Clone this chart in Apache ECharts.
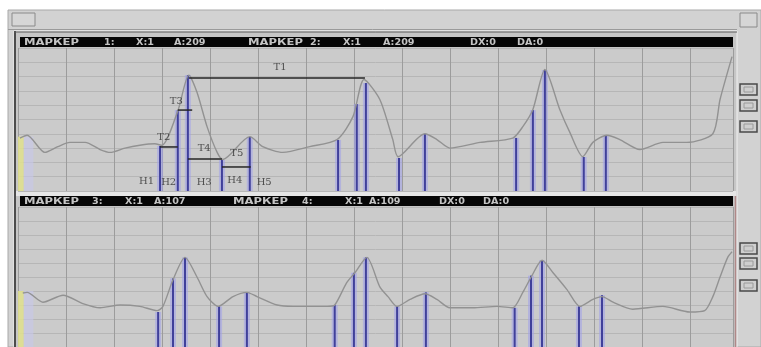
<!DOCTYPE html>
<html>
<head>
<meta charset="utf-8">
<script src="https://cdn.jsdelivr.net/npm/echarts@6/dist/echarts.min.js"></script>
<style>
  html, body { margin: 0; padding: 0; background: #ffffff; }
  #chart { width: 761px; height: 347px; }
</style>
</head>
<body>
<div id="chart"></div>
<script>
// time axis in samples, amplitude in % of panel height
const topWave = [
  [0.4, 37], [1.9, 39], [5.6, 27], [8.3, 31], [10.8, 34], [14.0, 34], [17.1, 29], [19.2, 27],
  [22.3, 30], [25.4, 32], [28.5, 33], [30.0, 32], [33.3, 56], [35.6, 81], [37.3, 69], [39.4, 45],
  [41.5, 27], [42.7, 22], [48.3, 38], [51.0, 31], [55.2, 27], [60.8, 31], [66.5, 36], [69.8, 52],
  [72.1, 78], [75.4, 64], [78.1, 36], [79.2, 24], [84.8, 40], [87.3, 36], [90.0, 30], [96.3, 34],
  [103.1, 37], [105.2, 45], [107.3, 57], [109.8, 85], [112.9, 57], [115.0, 41], [117.7, 24],
  [119.8, 34], [122.7, 39], [125.4, 36], [129.6, 29], [134.4, 34], [139.4, 34], [144.8, 40],
  [146.3, 64], [148.8, 94]
];
const topMarkers = [
  [29.6, 31.5], [33.3, 56.6], [35.4, 81], [42.5, 21.7], [48.3, 37.8], [66.7, 35.7], [70.6, 60.8],
  [72.5, 75.5], [79.4, 23.1], [84.8, 39.9], [103.8, 37.1], [107.3, 56.6], [109.8, 84.6],
  [117.9, 23.8], [122.5, 38.5]
];
// horizontal measurement segments: [from, to, level]
const topSegments = [
  [35.6, 72.3, 79], [29.6, 33.3, 30.8], [33.3, 36.3, 56.6], [35.4, 42.5, 22.4], [42.5, 48.5, 16.8]
];
const annotNames = ['T1', 'T2', 'T3', 'T4', 'T5', 'H1', 'H2', 'H3', 'H4', 'H5'];
const annotPos = [
  [54.6, 86.7], [30.4, 37.8], [33.0, 62.9], [38.8, 30], [45.6, 26.6],
  [26.8, 7], [31.4, 6.3], [38.8, 6.3], [45.2, 7.7], [51.3, 6.3]
];

const bottomWave = [
  [1.0, 38.6], [1.9, 39], [5.2, 32], [9.4, 37], [13.5, 31], [17.1, 28], [21.3, 30], [25.4, 29],
  [29.0, 26], [30.2, 29], [32.3, 48], [34.8, 64], [37.3, 50], [39.4, 36], [41.7, 29], [44.8, 36],
  [47.7, 39], [49.8, 36], [54.0, 30], [57.3, 29], [61.5, 29], [64.4, 29], [66.0, 30], [68.5, 46],
  [70.2, 53], [72.7, 64], [75.4, 43], [77.1, 36], [79.0, 29], [81.7, 34], [84.8, 38], [87.3, 34],
  [90.0, 28], [94.8, 28], [99.8, 29], [103.1, 28], [105.2, 39], [107.1, 51], [109.2, 62],
  [111.5, 53], [114.4, 41], [117.1, 29], [119.8, 34], [121.7, 36], [124.0, 32], [128.1, 27],
  [134.4, 29], [140.0, 25], [143.1, 26], [144.8, 36], [146.3, 50], [147.9, 64], [148.8, 68]
];
const bottomMarkers = [
  [29.2, 25], [32.3, 49], [34.8, 64], [41.9, 29], [47.7, 39], [66.0, 30], [70.0, 53], [72.5, 64],
  [79.0, 29], [85.0, 39], [103.5, 28], [106.9, 51], [109.2, 62], [116.9, 29], [121.7, 37]
];

const headerTop = [['МАРКЕР', 24], ['1:', 104], ['X:1', 136], ['A:209', 174], ['МАРКЕР', 248],
  ['2:', 310], ['X:1', 343], ['A:209', 383], ['DX:0', 470], ['DA:0', 517]];
const headerBottom = [['МАРКЕР', 24], ['3:', 92], ['X:1', 125], ['A:107', 154], ['МАРКЕР', 233],
  ['4:', 302], ['X:1', 345], ['A:109', 369], ['DX:0', 439], ['DA:0', 483]];

const chart = echarts.init(document.getElementById('chart'), null, { renderer: 'canvas' });

function xAxisOf(i) {
  return {
    gridIndex: i, type: 'value', min: 0, max: 149, interval: 10,
    axisLine: { show: false }, axisTick: { show: false }, axisLabel: { show: false },
    splitLine: { lineStyle: { color: '#9c9c9c', width: 1 } }
  };
}
function yAxisOf(i) {
  return {
    gridIndex: i, type: 'value', min: 0, max: 100, interval: 10,
    axisLine: { show: false }, axisTick: { show: false }, axisLabel: { show: false },
    splitLine: { lineStyle: { color: '#b6b6b6', width: 1 } }
  };
}

function markerSeries(i, data) {
  return {
    type: 'custom', xAxisIndex: i, yAxisIndex: i, data: data, z: 3,
    renderItem: (params, api) => {
      const p0 = api.coord([api.value(0), 0]);
      const p1 = api.coord([api.value(0), api.value(1)]);
      const shape = { x1: p0[0], y1: p0[1], x2: p1[0], y2: p1[1] };
      return {
        type: 'group', children: [
          { type: 'line', shape: shape, style: { stroke: 'rgba(160,160,235,0.55)', lineWidth: 6 } },
          { type: 'line', shape: shape, style: { stroke: '#40409a', lineWidth: 2 } }
        ]
      };
    }
  };
}

function waveSeries(i, data, stripTop) {
  return {
    type: 'line', xAxisIndex: i, yAxisIndex: i, data: data, smooth: 0.25,
    showSymbol: false, silent: true, z: 4,
    lineStyle: { color: '#929292', width: 1.4 },
    markArea: {
      silent: true,
      data: [
        [{ xAxis: 0, yAxis: 0, itemStyle: { color: 'rgba(225,225,140,0.85)' } }, { xAxis: 1.2, yAxis: stripTop }],
        [{ xAxis: 1.2, yAxis: 0, itemStyle: { color: 'rgba(200,200,235,0.6)' } }, { xAxis: 3.2, yAxis: stripTop }]
      ]
    }
  };
}

function headerText(tokens, y) {
  return tokens.map(([t, x]) => ({
    type: 'text', x: x, y: y, scaleX: t === 'МАРКЕР' ? 1.45 : 1.2,
    style: { text: t, fill: '#c4c4c4', font: 'bold 8px "DejaVu Sans"', textVerticalAlign: 'middle' },
    z: 20
  }));
}

function button(x, y, w, h) {
  return [
    { type: 'rect', shape: { x: x, y: y, width: w, height: h }, style: { fill: '#cfcfcf', stroke: '#4a4a4a', lineWidth: 1.5 }, z: 20 },
    { type: 'rect', shape: { x: x + 4, y: y + 3, width: w - 8, height: h - 6 }, style: { fill: 'none', stroke: '#9a9a9a', lineWidth: 1 }, z: 20 }
  ];
}

const graphics = [
  // window frame
  { type: 'rect', shape: { x: 8, y: 10, width: 753, height: 337 }, style: { fill: '#d2d2d2', stroke: '#a8a8a8', lineWidth: 1 }, z: -10 },
  { type: 'rect', shape: { x: 12, y: 13, width: 23, height: 13 }, style: { fill: '#d6d6d6', stroke: '#8a8a8a', lineWidth: 1 }, z: -5 },
  { type: 'rect', shape: { x: 740, y: 13, width: 17, height: 14 }, style: { fill: '#d6d6d6', stroke: '#8a8a8a', lineWidth: 1 }, z: -5 },
  { type: 'line', shape: { x1: 8, y1: 29.5, x2: 737, y2: 29.5 }, style: { stroke: '#9a9a9a', lineWidth: 1 }, z: -5 },
  // sunken panel
  { type: 'rect', shape: { x: 14, y: 31, width: 723, height: 320 }, style: { fill: '#c6c6c6', stroke: '#f0f0f0', lineWidth: 1 }, z: -5 },
  { type: 'line', shape: { x1: 15, y1: 31, x2: 15, y2: 347 }, style: { stroke: '#4c4c4c', lineWidth: 2 }, z: -4 },
  { type: 'line', shape: { x1: 14, y1: 32, x2: 737, y2: 32 }, style: { stroke: '#5a5a5a', lineWidth: 1 }, z: -4 },
  { type: 'line', shape: { x1: 735.5, y1: 196, x2: 735.5, y2: 347 }, style: { stroke: '#b08888', lineWidth: 1.5 }, z: -4 },
  // separator between panels
  { type: 'rect', shape: { x: 16, y: 191, width: 720, height: 5 }, style: { fill: '#e6e6e6' }, z: -3 },
  // header bars
  { type: 'rect', shape: { x: 20, y: 37, width: 713, height: 10 }, style: { fill: '#060606' }, z: 10 },
  { type: 'rect', shape: { x: 20, y: 196, width: 713, height: 10 }, style: { fill: '#060606' }, z: 10 },
  ...headerText(headerTop, 42.5),
  ...headerText(headerBottom, 201.5),
  ...button(740, 84, 17, 11), ...button(740, 100, 17, 11), ...button(740, 121, 17, 11),
  ...button(740, 243, 17, 11), ...button(740, 258, 17, 11), ...button(740, 280, 17, 11)
];

chart.setOption({
  animation: false,
  backgroundColor: '#ffffff',
  graphic: graphics,
  grid: [
    { left: 18, top: 48, width: 715, height: 143, show: true, backgroundColor: '#cbcbcb', borderWidth: 0 },
    { left: 18, top: 207, width: 715, height: 140, show: true, backgroundColor: '#cbcbcb', borderWidth: 0 }
  ],
  xAxis: [xAxisOf(0), xAxisOf(1)],
  yAxis: [yAxisOf(0), yAxisOf(1)],
  series: [
    waveSeries(0, topWave, 38),
    markerSeries(0, topMarkers),
    {
      type: 'custom', xAxisIndex: 0, yAxisIndex: 0, data: topSegments, z: 5,
      renderItem: (params, api) => {
        const a = api.coord([api.value(0), api.value(2)]);
        const b = api.coord([api.value(1), api.value(2)]);
        return { type: 'line', shape: { x1: a[0], y1: a[1], x2: b[0], y2: b[1] }, style: { stroke: '#262626', lineWidth: 1.5 } };
      }
    },
    {
      type: 'scatter', xAxisIndex: 0, yAxisIndex: 0, symbolSize: 0, z: 6, silent: true,
      data: annotNames.map((n, k) => ({ name: n, value: annotPos[k] })),
      label: {
        show: true, position: 'inside', formatter: p => p.name,
        fontFamily: 'DejaVu Serif', fontSize: 10, color: '#2e2e2e'
      }
    },
    waveSeries(1, bottomWave, 40),
    markerSeries(1, bottomMarkers)
  ]
});
</script>
</body>
</html>
